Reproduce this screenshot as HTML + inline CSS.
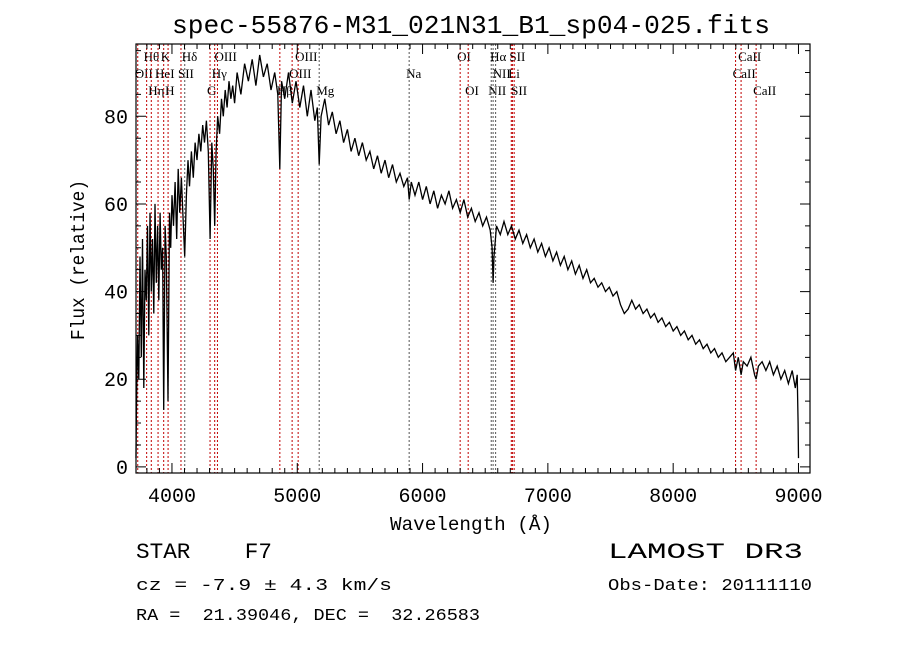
<!DOCTYPE html>
<html><head><meta charset="utf-8"><style>
html,body{margin:0;padding:0;background:#fff;}
svg{display:block;}
text{font-family:"Liberation Mono",monospace;fill:#000;white-space:pre;}
.lbl{font-family:"Liberation Serif",serif;font-size:13px;}
</style></head><body>
<svg id="chart" width="900" height="649" viewBox="0 0 900 649" xmlns="http://www.w3.org/2000/svg" xml:space="preserve">
<text x="172" y="33" font-size="26" textLength="598" lengthAdjust="spacingAndGlyphs">spec-55876-M31_021N31_B1_sp04-025.fits</text>
<g id="lines"></g>
<g id="spec"></g>
<g id="axes"></g>
<text x="390" y="530" font-size="19" textLength="162" lengthAdjust="spacingAndGlyphs">Wavelength (Å)</text>
<text transform="translate(84,340) rotate(-90)" font-size="19" textLength="160" lengthAdjust="spacingAndGlyphs">Flux (relative)</text>
<text x="136" y="558" font-size="22" textLength="136" lengthAdjust="spacingAndGlyphs">STAR    F7</text>
<text x="136" y="590" font-size="17" textLength="256" lengthAdjust="spacingAndGlyphs">cz = -7.9 ± 4.3 km/s</text>
<text x="136" y="620" font-size="17" textLength="344" lengthAdjust="spacingAndGlyphs">RA =  21.39046, DEC =  32.26583</text>
<text x="608" y="558" font-size="22" textLength="195" lengthAdjust="spacingAndGlyphs">LAMOST DR3</text>
<text x="608" y="590" font-size="17" textLength="204" lengthAdjust="spacingAndGlyphs">Obs-Date: 20111110</text>
</svg>
<script>
const wave=[3713,3716,3725,3735,3745,3755,3765,3775,3785,3795,3805,3815,3825,3835,3845,3855,3865,3875,3885,3895,3905,3915,3925,3934,3945,3955,3968,3980,3990,4000,4012,4025,4038,4050,4062,4075,4090,4102,4115,4128,4140,4155,4170,4185,4200,4215,4230,4245,4260,4275,4290,4304,4318,4330,4341,4352,4365,4380,4395,4410,4425,4440,4455,4470,4485,4500,
4520,4550,4580,4610,4640,4670,4700,4730,4760,4790,4820,4845,4861,4875,4900,4930,4960,4990,5020,5050,5080,5110,5140,5160,5175,5190,5220,5250,5280,5310,5340,5370,5400,5430,5460,5490,5520,5550,5580,5610,5640,5670,5700,5730,5760,5790,5820,5850,5880,5893,5910,5940,5970,6000,6030,6060,6090,6120,6150,6180,6210,6240,6270,6300,6330,6360,6390,6420,6450,6480,6510,6540,6555,6563,6570,6590,6620,6650,6680,6710,6740,6770,6800,6830,6860,6890,6920,6950,6980,7010,7040,7070,7100,7130,7160,7190,7220,7250,7280,7310,7340,7370,7400,7430,7460,7490,7520,7550,7580,7610,7640,7670,7700,7730,7760,7790,7820,7850,7880,7910,7940,7970,8000,8030,8060,8090,8120,8150,8180,8210,8240,8270,8300,8330,8360,8390,8420,8450,8480,8498,8520,8542,8560,8590,8620,8650,8662,8680,8710,8740,8770,8800,8830,8860,8890,8920,8950,8975,8990,8997,9000];
const flux=[2,12,30,20,48,25,52,18,45,38,55,30,58,40,52,35,60,42,55,38,58,45,50,13,55,48,15,58,50,62,55,65,52,68,58,66,56,48,62,70,64,72,66,74,70,76,72,78,74,79,72,52,74,68,55,72,80,76,84,80,86,82,88,84,87,83,
90,85,92,88,93,87,94,89,92,86,90,85,68,88,84,90,83,88,82,87,80,86,79,82,69,80,84,78,81,76,79,74,77,72,75,71,74,70,72,68,71,67,70,66,69,65,67,64,66,61,65,62,65,61,64,60,63,59,62,60,63,59,61,58,61,57,59,56,58,55,57,54,50,42,48,55,53,56,53,55,52,54,51,53,50,52,49,51,48,50,47,49,46,48,45,47,44,46,43,45,42,43,41,42,40,41,39,40,37,35,36,38,36,37,35,36,34,35,33,34,32,33,31,32,30,31,29,30,28,29,27,28,26,27,25,26,24,25,26,22,25,21,24,23,25,21,20,23,24,22,24,21,23,20,22,19,22,18,21,10,2];
const lineWaves=[3727,3798,3835,3889,3934,3969,4072,4102,4304,4341,4363,4861,4959,5007,5175,5893,6300,6364,6548,6563,6583,6708,6717,6731,8498,8542,8662];
const lineColors=["r","r","r","r","r","r","r","k","r","r","r","r","r","r","k","k","r","r","k","k","k","r","r","r","r","r","r"];
const labelText=["OII","Hθ","Hη","HeI","K","H","SII","Hδ","G","Hγ","OIII","Hβ","OIII","OIII","Mg","Na","OI","OI","NII","Hα","NII","Li","SII","SII","CaII","CaII","CaII"];
const labelRow=[1,0,2,1,0,2,1,0,2,1,0,2,1,0,2,1,0,2,2,0,1,1,0,2,1,0,2];
const xTicks=[4000,5000,6000,7000,8000,9000];
const yTicks=[0,20,40,60,80];
const X0=136,X1=810,Y0=44,Y1=473,WMIN=3713,WMAX=9092,FMIN=-1.4,FMAX=96.5;
const ns="http://www.w3.org/2000/svg";
function sx(w){return X0+(w-WMIN)/(WMAX-WMIN)*(X1-X0);}
function sy(f){return Y1-(f-FMIN)/(FMAX-FMIN)*(Y1-Y0);}
function mk(tag,parent){const e=document.createElementNS(ns,tag);parent.appendChild(e);return e;}
const gl=document.getElementById('lines');
lineWaves.forEach((w,i)=>{
 const l=mk('line',gl);
 
 
 l.setAttribute('x1',sx(w));l.setAttribute('x2',sx(w));l.setAttribute('y1',Y0);l.setAttribute('y2',Y1);
 l.setAttribute('stroke',lineColors[i]==='r'?'#c00000':'#555');l.setAttribute('stroke-width','1');l.setAttribute('stroke-dasharray','2,2');
 const t=mk('text',gl);
 
 
 t.setAttribute('class','lbl');t.setAttribute('x',sx(w)-3);t.setAttribute('y',61+labelRow[i]*17);
 t.textContent=labelText[i];
});
const gs=document.getElementById('spec');
const p=mk('polyline',gs);


p.setAttribute('points',wave.map((w,i)=>sx(w).toFixed(1)+','+sy(flux[i]).toFixed(1)).join(' '));
p.setAttribute('fill','none');p.setAttribute('stroke','#000');p.setAttribute('stroke-width','1.3');
const ga=document.getElementById('axes');
const fr=mk('rect',ga);


fr.setAttribute('x',X0);fr.setAttribute('y',Y0);fr.setAttribute('width',X1-X0);fr.setAttribute('height',Y1-Y0);
fr.setAttribute('fill','none');fr.setAttribute('stroke','#000');fr.setAttribute('stroke-width','1.2');
let d='';
for(let w=3800;w<=9000;w+=100){const x=sx(w);const L=(w%1000===0)?10:5;d+=`M${x},${Y1}v${-L}M${x},${Y0}v${L}`;}
for(let f=0;f<=95;f+=5){const y=sy(f);const L=(f%20===0)?10:5;d+=`M${X0},${y}h${L}M${X1},${y}h${-L}`;}
const tk=mk('path',ga);


tk.setAttribute('d',d);tk.setAttribute('stroke','#000');tk.setAttribute('stroke-width','1');
xTicks.forEach(w=>{
 const t=mk('text',ga);
 
 
 t.setAttribute('x',sx(w));t.setAttribute('y',502);t.setAttribute('font-size','20');t.setAttribute('text-anchor','middle');
 t.textContent=w;
});
yTicks.forEach(f=>{
 const t=mk('text',ga);
 
 
 t.setAttribute('x',128);t.setAttribute('y',sy(f)+7);t.setAttribute('font-size','20');t.setAttribute('text-anchor','end');
 t.textContent=f;
});
</script>
</body></html>
